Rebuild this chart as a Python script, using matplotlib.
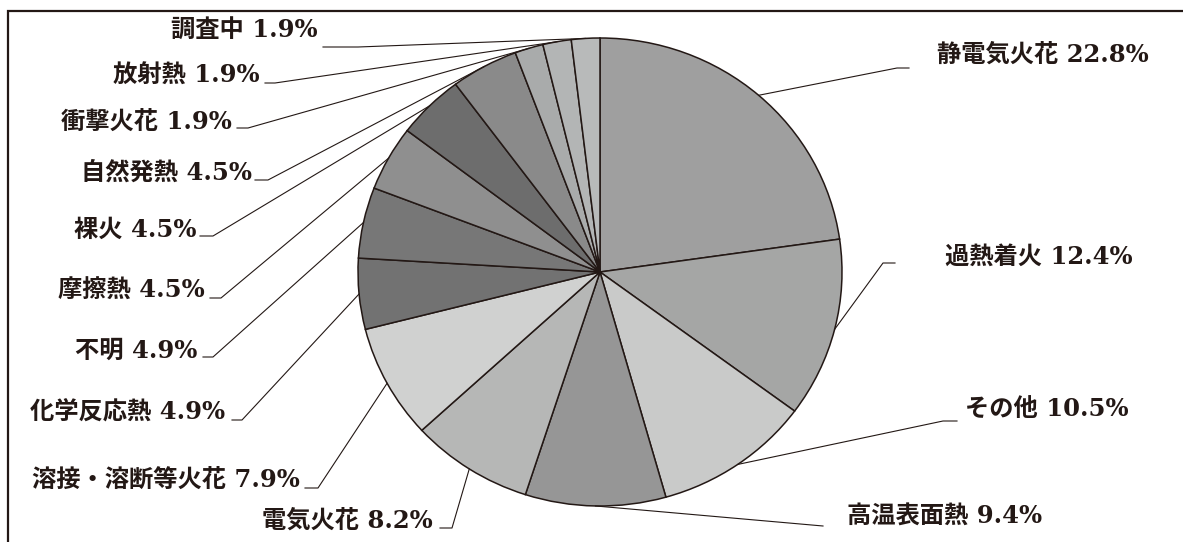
import numpy as np
import matplotlib
matplotlib.use("Agg")
import matplotlib.pyplot as plt

# ignition source shares (%)
labels = ["静電気火花", "過熱着火", "その他", "高温表面熱", "電気火花",
          "溶接・溶断等火花", "化学反応熱", "不明", "摩擦熱", "裸火",
          "自然発熱", "衝撃火花", "放射熱", "調査中"]
shares = [22.8, 12.4, 10.5, 9.4, 8.2, 7.9, 4.9, 4.9, 4.5, 4.5, 4.5, 1.9, 1.9, 1.9]
colors = ["#9f9f9f", "#a5a6a5", "#c9cac9", "#969696", "#b6b7b6", "#d0d1d0",
          "#727272", "#777777", "#8f8f8f", "#6d6d6d", "#8a8a8a", "#a9abab",
          "#b3b5b5", "#b8baba"]

# label placement in pixels: text anchor (x, y, ha), leader elbow (x, y), leader tail x
text_pos = [(937, 55, "left"), (945, 257, "left"), (965, 410, "left"),
            (847, 516, "left"), (433, 521, "right"), (300, 480, "right"),
            (225, 413, "right"), (197, 351, "right"), (205, 291, "right"),
            (197, 230, "right"), (252, 173, "right"), (232, 122, "right"),
            (260, 76, "right"), (318, 30, "right")]
elbows = [(897, 68), (883, 263), (943, 421), (823, 526), (452, 528),
          (318, 488), (242, 420), (213, 357), (221, 298), (213, 236),
          (268, 180), (248, 128), (275, 83), (358, 47)]
tails = [909, 895, 957, 823, 440, 305, 232, 203, 210, 200, 255, 237, 265, 323]

W, H = 1183, 542
CX, CY, RX, RY = 600, 272, 242, 234
INK = "#231815"

fig = plt.figure(figsize=(W / 100, H / 100), dpi=100)
fig.patch.set_facecolor("white")

# pie axes sized so the pie comes out slightly wider than tall
pax = fig.add_axes([(CX - RX) / W, (H - CY - RY) / H, 2 * RX / W, 2 * RY / H])
pax.pie(shares, colors=colors, startangle=90, counterclock=False, radius=1,
        wedgeprops=dict(edgecolor=INK, linewidth=1.1))
pax.set_aspect("auto")
pax.set_xlim(-1, 1)
pax.set_ylim(-1, 1)
pax.axis("off")

# overlay in pixel coordinates for frame, leaders and labels
ax = fig.add_axes([0, 0, 1, 1], zorder=2)
ax.set_xlim(0, W)
ax.set_ylim(H, 0)
ax.axis("off")
ax.patch.set_alpha(0)

ax.plot([8, 8, W], [H, 11, 11], color=INK, lw=1.6, solid_joinstyle="miter")

fracs = np.array(shares) / sum(shares)
starts = 90 - 360 * np.concatenate([[0], np.cumsum(fracs)[:-1]])
mids = np.radians(starts - 180 * fracs)

font = ["DejaVu Serif", "Noto Sans CJK JP"]
for name, val, m, (tx, ty, ha), (ex, ey), hx in zip(labels, shares, mids,
                                                     text_pos, elbows, tails):
    px, py = CX + RX * np.cos(m), CY - RY * np.sin(m)
    ax.plot([px, ex, hx], [py, ey, ey], color=INK, lw=0.8)
    ax.text(tx, ty, f"{name} {val}%", ha=ha, va="center", fontsize=17.5,
            family=font, weight="bold", color=INK)

fig.savefig("out.png", dpi=100)
